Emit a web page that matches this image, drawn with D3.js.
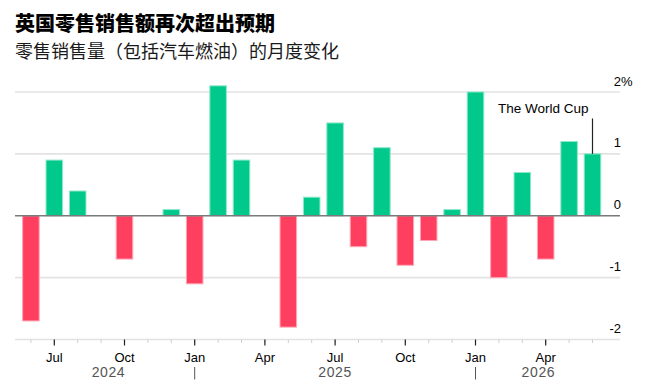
<!DOCTYPE html>
<html>
<head>
<meta charset="utf-8">
<script src="https://cdn.jsdelivr.net/npm/d3@7"></script>
<style>
  html, body { margin: 0; padding: 0; background: #fff; }
  svg { display: block; }
</style>
</head>
<body>
<svg id="chart" width="647" height="388"></svg>
<script>
// ---- data ----
const months = [
  "2024-06","2024-07","2024-08","2024-09","2024-10","2024-11","2024-12",
  "2025-01","2025-02","2025-03","2025-04","2025-05","2025-06","2025-07",
  "2025-08","2025-09","2025-10","2025-11","2025-12",
  "2026-01","2026-02","2026-03","2026-04","2026-05","2026-06"
];
const values = [
  -1.7, 0.9, 0.4, 0, -0.7, 0, 0.1,
  -1.1, 2.1, 0.9, 0, -1.8, 0.3, 1.5,
  -0.5, 1.1, -0.8, -0.4, 0.1,
  2.0, -1.0, 0.7, -0.7, 1.2, 1.0
];
const yTicks = [-2, -1, 0, 1, 2];
const majorMonthLabels = { "01": "Jan", "04": "Apr", "07": "Jul", "10": "Oct" };
const years = ["2024", "2025", "2026"];
const title = "英国零售销售额再次超出预期";
const subtitle = "零售销售量（包括汽车燃油）的月度变化";
const annotationText = "The World Cup";
const annotationMonth = "2026-06";

// ---- layout ----
const svg = d3.select("#chart");
const latin = "'Liberation Sans', Arial, Helvetica, sans-serif";
const cjk = "'Noto Sans CJK SC', 'Noto Sans', sans-serif";
const plotLeft = 15, plotRight = 620;
const green = "#00c98b", red = "#ff3f60";
const greenStroke = "#8fe8c9", redStroke = "#ffa6b4";

const x = d3.scaleBand().domain(months).range([19.2, 604.2])
  .paddingInner(0.25).paddingOuter(0.125);
const y = d3.scaleLinear().domain([-2, 2]).range([339.5, 92]);

// Title & subtitle
svg.append("text").attr("x", 15).attr("y", 31)
  .attr("font-family", cjk).attr("font-weight", 900).attr("font-size", 20)
  .attr("fill", "#000").text(title);
svg.append("text").attr("x", 15).attr("y", 58)
  .attr("font-family", cjk).attr("font-size", 18)
  .attr("fill", "#1a1a1a").text(subtitle);

// Gridlines
const grid = svg.append("g");
grid.selectAll("line").data(yTicks.filter(d => d !== 0)).join("line")
  .attr("x1", plotLeft).attr("x2", plotRight)
  .attr("y1", d => y(d)).attr("y2", d => y(d))
  .attr("stroke", "#e3e3e3").attr("stroke-width", 1.6);

// Y labels
const ylab = svg.append("g").attr("font-family", latin).attr("font-size", 13).attr("fill", "#000");
ylab.selectAll("text").data(yTicks).join("text")
  .attr("x", 621).attr("y", d => y(d) - 6.5)
  .attr("text-anchor", "end")
  .text(d => d < 0 ? "-" + Math.abs(d) : String(d));
ylab.append("text").attr("x", 621).attr("y", y(2) - 6.5).text("%");

// Bars
svg.append("g").selectAll("rect").data(months.map((m, i) => ({ m, v: values[i] })).filter(d => d.v !== 0))
  .join("rect")
  .attr("x", d => x(d.m) + 0.5)
  .attr("width", x.bandwidth() - 1)
  .attr("y", d => y(Math.max(0, d.v)))
  .attr("height", d => Math.abs(y(d.v) - y(0)))
  .attr("fill", d => d.v >= 0 ? green : red)
  .attr("stroke", d => d.v >= 0 ? greenStroke : redStroke)
  .attr("stroke-width", 1);

// Zero line
svg.append("line").attr("x1", plotLeft).attr("x2", plotRight)
  .attr("y1", y(0)).attr("y2", y(0))
  .attr("stroke", "#7a7a7a").attr("stroke-width", 1.6);

// X axis: minor ticks
const axisY = y(-2);
const minorAxis = d3.axisBottom(x).tickSize(3.5).tickFormat("");
const gMinor = svg.append("g").attr("transform", `translate(0,${axisY})`).call(minorAxis);
gMinor.select(".domain").remove();
gMinor.selectAll(".tick line").attr("stroke", "#cfcfcf").attr("stroke-width", 1);

// X axis: major ticks with labels
const majors = months.filter(m => majorMonthLabels[m.slice(5)]);
const majorAxis = d3.axisBottom(x).tickValues(majors).tickSize(6).tickPadding(7)
  .tickFormat(m => majorMonthLabels[m.slice(5)]);
const gMajor = svg.append("g").attr("transform", `translate(0,${axisY})`).call(majorAxis);
gMajor.select(".domain").remove();
gMajor.selectAll(".tick line").attr("stroke", "#222").attr("stroke-width", 1.2);
gMajor.selectAll(".tick text").attr("font-family", latin).attr("font-size", 13)
  .attr("fill", "#000");

// Year labels and separators
const center = m => x(m) + x.bandwidth() / 2;
const jans = months.filter(m => m.slice(5) === "01");
svg.append("g").selectAll("line").data(jans).join("line")
  .attr("x1", center).attr("x2", center)
  .attr("y1", 367).attr("y2", 379.5)
  .attr("stroke", "#555").attr("stroke-width", 1);
const yearG = svg.append("g").attr("font-family", latin).attr("font-size", 14)
  .attr("fill", "#555").attr("letter-spacing", 0.6).attr("text-anchor", "middle");
years.forEach(yr => {
  const ms = months.filter(m => m.startsWith(yr));
  const janThis = months.includes(yr + "-01") ? center(yr + "-01") : x(ms[0]);
  const nextJan = (+yr + 1) + "-01";
  const end = months.includes(nextJan) ? center(nextJan) : x(ms[ms.length - 1]) + x.bandwidth();
  yearG.append("text").attr("x", (janThis + end) / 2).attr("y", 377).text(yr);
});

// Annotation
const ax = center(annotationMonth);
svg.append("line").attr("x1", ax).attr("x2", ax)
  .attr("y1", 118.5).attr("y2", y(values[months.indexOf(annotationMonth)]))
  .attr("stroke", "#222").attr("stroke-width", 1.2);
svg.append("text").attr("x", 498).attr("y", 112.5)
  .attr("font-family", latin).attr("font-size", 13.5).attr("fill", "#000")
  .text(annotationText);
</script>
</body>
</html>
